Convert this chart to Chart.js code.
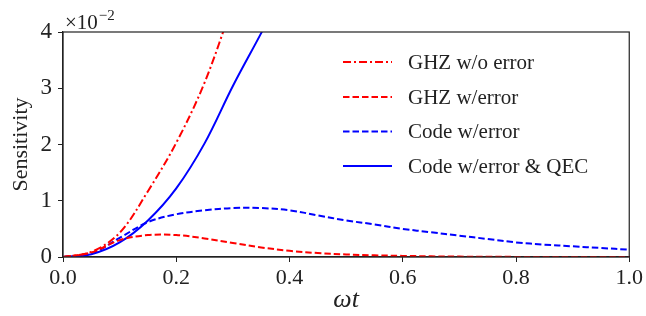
<!DOCTYPE html>
<html>
<head>
<meta charset="utf-8">
<script src="https://cdn.jsdelivr.net/npm/chart.js@4.4.0/dist/chart.umd.min.js"></script>
<style>
  html, body { margin: 0; padding: 0; background: #fff; }
  #wrap { width: 646px; height: 316px; }
</style>
</head>
<body>
<div id="wrap"><canvas id="sensChart" width="646" height="316"></canvas></div>
<script>
// omega*t sample points
const omegaT = [0, 0.05, 0.1, 0.15, 0.2, 0.25, 0.3, 0.35, 0.4, 0.45, 0.5,
    0.55, 0.6, 0.65, 0.7, 0.75, 0.8, 0.85, 0.9, 0.95, 1.0];

// sensitivity values, in units of 1e-2
const ghzNoError = [0, 0.09, 0.43, 1.17, 2.03, 3.1, 4.5];
const ghzError = [0, 0.08, 0.3, 0.39, 0.39, 0.33, 0.25, 0.17, 0.11, 0.07, 0.045,
    0.03, 0.02, 0.012, 0.007, 0.004, 0.002, 0.001, 0.001, 0, 0];
const codeError = [0, 0.06, 0.34, 0.62, 0.76, 0.83, 0.87, 0.87, 0.83, 0.74, 0.65,
    0.58, 0.5, 0.44, 0.38, 0.32, 0.26, 0.22, 0.19, 0.16, 0.13];
const codeQEC = [0, 0.05, 0.26, 0.65, 1.22, 2.02, 3.04, 3.98, 4.95];

const seriesNames = ["GHZ w/o error", "GHZ w/error", "Code w/error", "Code w/error & QEC"];

const FONT = "'Liberation Serif', 'Times New Roman', serif";

const toPoints = (vals) => vals.map((v, i) => ({ x: omegaT[i], y: v }));

// draws the top/right spines, the offset text and the legend
const extrasPlugin = {
    id: 'extras',
    afterDraw(chart) {
        const ctx = chart.ctx;
        const a = chart.chartArea;
        ctx.save();
        ctx.strokeStyle = '#222';
        ctx.lineWidth = 1.2;
        ctx.strokeRect(a.left, a.top, a.right - a.left, a.bottom - a.top);

        // x10^-2 offset label
        ctx.fillStyle = '#222';
        ctx.textBaseline = 'alphabetic';
        ctx.font = '21px ' + FONT;
        ctx.fillText('\u00d710', a.left + 2, a.top - 3);
        const w = ctx.measureText('\u00d710').width;
        ctx.font = '15px ' + FONT;
        ctx.fillText('\u22122', a.left + 2 + w + 1, a.top - 12);

        // legend
        const rowY = [62, 97, 131.5, 166];
        chart.data.datasets.forEach((ds, i) => {
            const y = rowY[i];
            ctx.strokeStyle = ds.borderColor;
            ctx.lineWidth = ds.borderWidth;
            ctx.setLineDash(ds.borderDash || []);
            ctx.beginPath();
            ctx.moveTo(343, y);
            ctx.lineTo(392, y);
            ctx.stroke();
            ctx.setLineDash([]);
            ctx.fillStyle = '#222';
            ctx.font = '21px ' + FONT;
            ctx.textBaseline = 'middle';
            ctx.fillText(ds.label, 408, y + 1);
        });
        ctx.restore();
    }
};

const canvasRef = document.getElementById('sensChart').getContext('2d');

new Chart(canvasRef, {
    type: 'line',
    data: {
        datasets: [
            {
                label: seriesNames[0],
                data: toPoints(ghzNoError),
                borderColor: 'rgb(255, 0, 0)',
                borderWidth: 2,
                borderDash: [8, 3, 2, 3]
            },
            {
                label: seriesNames[1],
                data: toPoints(ghzError),
                borderColor: 'rgb(255, 0, 0)',
                borderWidth: 2,
                borderDash: [6.5, 3]
            },
            {
                label: seriesNames[2],
                data: toPoints(codeError),
                borderColor: 'rgb(0, 0, 255)',
                borderWidth: 2,
                borderDash: [6.5, 3]
            },
            {
                label: seriesNames[3],
                data: toPoints(codeQEC),
                borderColor: 'rgb(0, 0, 255)',
                borderWidth: 2
            }
        ]
    },
    options: {
        responsive: false,
        animation: false,
        events: [],
        clip: 0,
        elements: {
            point: { radius: 0 },
            line: { tension: 0.35, fill: false }
        },
        layout: { padding: { left: 0, right: 15, top: 32, bottom: 0 } },
        plugins: {
            legend: { display: false },
            tooltip: { enabled: false }
        },
        scales: {
            x: {
                type: 'linear',
                min: 0,
                max: 1,
                afterFit: (scale) => { scale.height = 59; },
                ticks: {
                    stepSize: 0.2,
                    padding: 3,
                    color: '#222',
                    font: { family: FONT, size: 22 },
                    callback: (v) => v.toFixed(1)
                },
                grid: { drawOnChartArea: false, tickLength: 5, color: '#222' },
                border: { color: '#222', width: 1.2 },
                title: {
                    display: true,
                    text: '\u03c9t',
                    color: '#222',
                    font: { family: FONT, size: 26, style: 'italic' },
                    padding: { top: 0, bottom: 0 }
                }
            },
            y: {
                min: 0,
                max: 4,
                afterFit: (scale) => { scale.width = 63; },
                ticks: {
                    stepSize: 1,
                    padding: 6,
                    color: '#222',
                    font: { family: FONT, size: 23 }
                },
                grid: { drawOnChartArea: false, tickLength: 5, color: '#222' },
                border: { color: '#222', width: 1.2 },
                title: {
                    display: true,
                    text: 'Sensitivity',
                    color: '#222',
                    font: { family: FONT, size: 22 },
                    padding: { top: 8, bottom: 0 }
                }
            }
        }
    },
    plugins: [extrasPlugin]
});
</script>
</body>
</html>
